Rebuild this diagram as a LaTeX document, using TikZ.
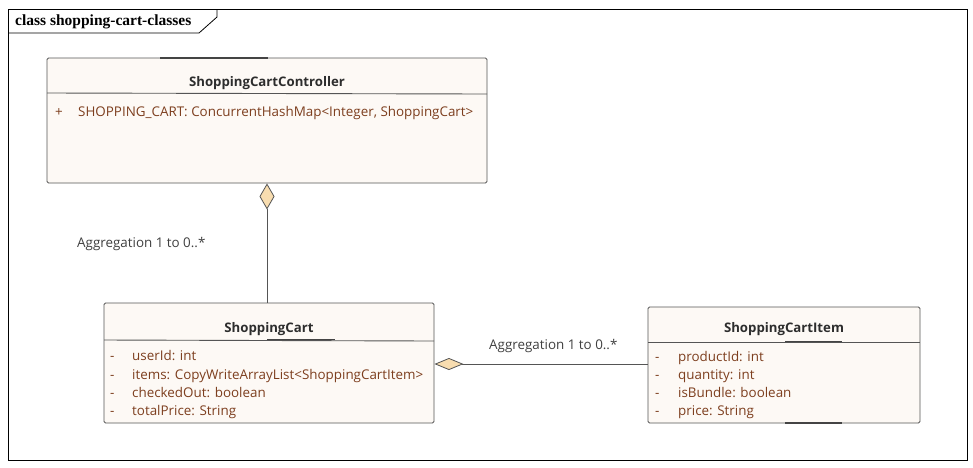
\documentclass[tikz,border=0pt]{standalone}
\usepackage{fontspec}
\setmainfont{Open Sans}
\newfontfamily\framefont{Liberation Serif}
\usetikzlibrary{arrows.meta}
\definecolor{boxfill}{RGB}{253,249,245}
\definecolor{boxline}{RGB}{85,85,85}
\definecolor{attr}{RGB}{125,62,30}
\definecolor{titletext}{RGB}{45,45,45}
\definecolor{labeltext}{RGB}{64,64,64}
\definecolor{diam}{RGB}{248,221,176}
\tikzset{
  classbox/.style={draw=boxline, fill=boxfill, line width=0.9pt, inner sep=0pt, rounded corners=1.5pt},
  classtitle/.style={font=\fontsize{13.2}{15}\selectfont\bfseries, text=titletext, inner sep=0pt, text height=10pt, text depth=3pt, yshift=-1.5pt},
  attrtext/.style={font=\fontsize{13.4}{15}\selectfont, text=attr, anchor=west, inner sep=0pt, text height=10pt, text depth=3pt, yshift=-1.5pt},
  seprule/.style={draw=boxline, line width=0.9pt},
  heavy/.style={draw=boxline!80!black, line width=1.8pt},
  conn/.style={draw=boxline, line width=0.9pt},
  agglabel/.style={font=\fontsize{13.4}{15}\selectfont, text=labeltext, inner sep=0pt, text height=10pt, text depth=3pt, yshift=-1.5pt},
}
\begin{document}
\begin{tikzpicture}[x=1pt,y=-1pt]
\useasboundingbox (0,0) rectangle (973,467);
\fill[white] (0,0) rectangle (973,467);
% frame
\node[draw=black, line width=0.8pt, minimum width=959pt, minimum height=451pt, inner sep=0pt] (frame) at (487.5,234.5) {};
\draw[black, line width=0.8pt] (8,33) -- (199,33) -- (217,17) -- (217,9);
\node[font=\framefont\fontsize{15.5}{17}\selectfont\bfseries, anchor=west, inner sep=0pt, text height=10pt, text depth=3pt, yshift=-1pt] (frametitle) at (15,21) {class shopping-cart-classes};

% ShoppingCartController
\node[classbox, minimum width=440pt, minimum height=125pt] (ctrl) at (267,120.5) {};
\draw[seprule] (47,93) -- (487,94);
\draw[heavy] (160,58) -- (268,58);
\node[classtitle] (ctrlT) at (267,81) {ShoppingCartController};
\node[attrtext] (ctrlA1p) at (55,111) {+};
\node[attrtext] (ctrlA1) at (78,111) {SHOPPING\_CART: ConcurrentHashMap<Integer, ShoppingCart>};

% ShoppingCart
\node[classbox, minimum width=330pt, minimum height=120pt] (cart) at (269,363) {};
\draw[seprule] (104,340) -- (434,341);
\draw[heavy] (267,339.5) -- (335,339.5);
\node[classtitle] (cartT) at (269,327) {ShoppingCart};
\foreach \y/\t [count=\i] in {355/{userId: int},374/{items: CopyWriteArrayList<ShoppingCartItem>},392/{checkedOut: boolean},410/{totalPrice: String}}{
  \node[attrtext] (cartD\i) at (110,\y) {-};
  \node[attrtext] (cartA\i) at (132,\y) {\t};
}

% ShoppingCartItem
\node[classbox, minimum width=272pt, minimum height=116pt] (item) at (784,365) {};
\draw[seprule] (648,342) -- (920,342);
\draw[heavy] (785,341.5) -- (842,341.5);
\draw[heavy] (785,423) -- (842,423);
\node[classtitle] (itemT) at (784,327) {ShoppingCartItem};
\foreach \y/\t [count=\i] in {356/{productId: int},374/{quantity: int},392/{isBundle: boolean},410/{price: String}}{
  \node[attrtext] (itemD\i) at (655,\y) {-};
  \node[attrtext] (itemA\i) at (678,\y) {\t};
}

% connectors
\draw[conn, {Diamond[fill=diam, line width=0.8pt, length=26pt, width=15pt]}-] (ctrl.south) -- (ctrl.south |- cart.north);
\node[agglabel, anchor=west] (lab1) at (77,242) {Aggregation 1 to 0..*};
\coordinate (hy) at (0,364);
\draw[conn, {Diamond[fill=diam, line width=0.8pt, length=29pt, width=12pt]}-] (cart.east |- hy) -- (item.west |- hy);
\node[agglabel, anchor=west] (lab2) at (489,344) {Aggregation 1 to 0..*};
\end{tikzpicture}
\end{document}
